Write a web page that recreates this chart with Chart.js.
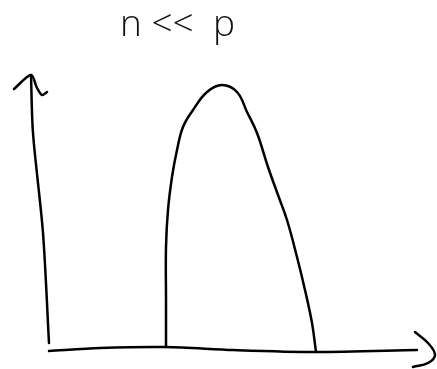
<!DOCTYPE html>
<html>
<head>
<meta charset="utf-8">
<script src="https://cdn.jsdelivr.net/npm/chart.js@4"></script>
<style>
  html, body { margin: 0; padding: 0; background: #fff; }
  #wrap { width: 437px; height: 369px; }
</style>
</head>
<body>
<div id="wrap"><canvas id="sketch"></canvas></div>
<script>
// sketch values (x along the axis, y = height above it)
const curveX = [166, 166, 166, 168, 172, 177, 183, 193, 207, 222, 237, 247, 257, 268, 278, 287, 297, 305, 312, 316];
const curveY = [3, 50, 103, 140, 173, 200, 223, 240, 258, 265, 258, 238, 217, 183, 155, 130, 93, 60, 27, -2];

const yAxisX = [49, 43, 33, 31];
const yAxisY = [7, 117, 217, 275];
const yArrowX = [14, 31, 37, 42, 47];
const yArrowY = [261, 275, 262, 255, 258];

const xAxisX = [49, 100, 166, 233, 316, 417];
const xAxisY = [-1, 2, 3, 0, -2, 0];
const xArrowX = [415, 428, 435, 428, 413];
const xArrowY = [18, 7, -5, -13, -17];

const titleText = "n <<  p";

function pts(xs, ys) {
  return xs.map((x, i) => ({ x: x, y: ys[i] }));
}

function stroke(data, tension) {
  return {
    data: data,
    showLine: true,
    borderColor: "#000",
    borderWidth: 2.5,
    pointRadius: 0,
    tension: tension,
    borderCapStyle: "round",
    borderJoinStyle: "round",
    fill: false,
    clip: false
  };
}

new Chart(document.getElementById("sketch"), {
  type: "scatter",
  data: {
    datasets: [
      stroke(pts(curveX, curveY), 0.4),
      stroke(pts(yAxisX, yAxisY), 0.3),
      stroke(pts(yArrowX, yArrowY), 0.3),
      stroke(pts(xAxisX, xAxisY), 0.3),
      stroke(pts(xArrowX, xArrowY), 0.4)
    ]
  },
  options: {
    responsive: true,
    maintainAspectRatio: false,
    animation: false,
    layout: { padding: { left: 0, right: 82, top: 0, bottom: 0 } },
    scales: {
      x: { type: "linear", min: 0, max: 355, display: false },
      y: { type: "linear", min: -19, max: 294, display: false }
    },
    plugins: {
      legend: { display: false },
      tooltip: { enabled: false },
      title: {
        display: true,
        text: titleText,
        color: "#111",
        font: { family: "Open Sans", size: 37, weight: "300" },
        padding: { top: 3, bottom: 8.6 }
      }
    }
  }
});
</script>
</body>
</html>
